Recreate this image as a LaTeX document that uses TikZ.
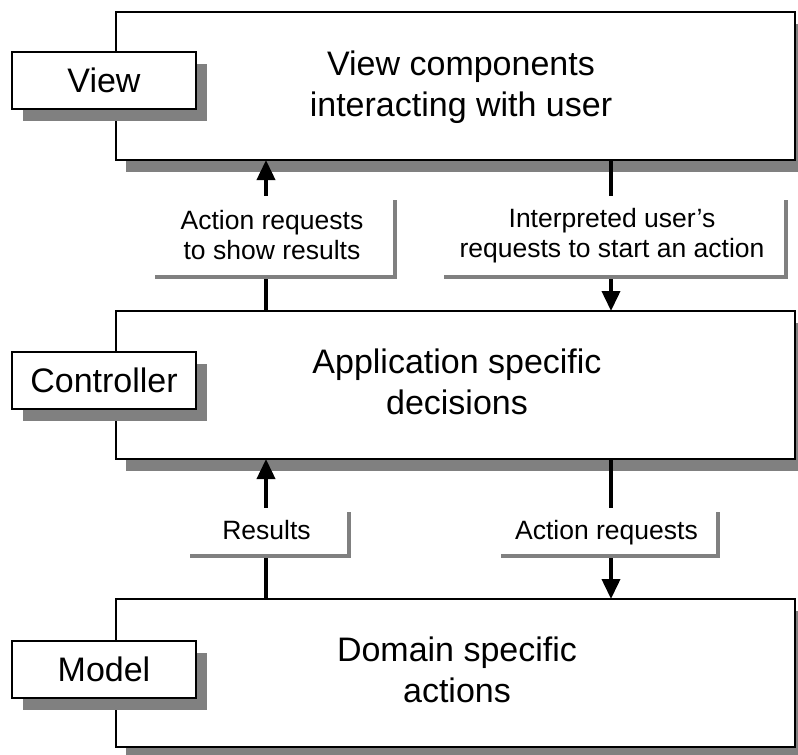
\documentclass[tikz,border=0pt]{standalone}
\usepackage{fontspec}
\setmainfont{Liberation Sans}
\usetikzlibrary{arrows.meta,shadows}
\definecolor{shade}{gray}{0.5}
\tikzset{
  layerbox/.style={draw=black, line width=1.2pt, fill=white, anchor=north west,
    minimum width=679pt, minimum height=148pt, inner sep=0pt, outer sep=0pt,
    drop shadow={shadow xshift=10pt, shadow yshift=-12pt, opacity=1, fill=shade}},
  layertext/.style={align=center, inner sep=0pt, font=\fontsize{34}{41}\selectfont},
  tagbox/.style={draw=black, line width=1.2pt, fill=white, anchor=north west,
    minimum width=184pt, minimum height=57pt, inner sep=0pt, outer sep=0pt,
    font=\fontsize{34}{41}\selectfont,
    drop shadow={shadow xshift=11pt, shadow yshift=-12pt, opacity=1, fill=shade}},
  msgbox/.style={fill=white, anchor=north west, inner sep=0pt, outer sep=0pt,
    align=center, font=\fontsize{26.5}{30}\selectfont,
    drop shadow={shadow xshift=3.5pt, shadow yshift=-3.5pt, opacity=1, fill=shade}},
  oneline/.style={text height=20pt, text depth=4pt},
  flow/.style={line width=3.8pt, -{Triangle[length=20pt,width=18pt]}},
}
\begin{document}
\begin{tikzpicture}[x=1pt, y=-1pt]
\useasboundingbox (0,0) rectangle (798,755);

% the three layers
\node[layerbox] (view) at (116,12) {};
\node[layerbox] (ctrl) at (116,311) {};
\node[layerbox] (model) at (116,599) {};
\node[layertext] (viewtxt) at (461,87) {View components\\interacting with user};
\node[layertext] (ctrltxt) at (457,382) {Application specific\\decisions};
\node[layertext] (modeltxt) at (457,670) {Domain specific\\actions};

% columns of the connectors
\coordinate (up) at (266,0);
\coordinate (down) at (611,0);

% requests and results between layers
\draw[flow] (ctrl.north -| up) -- (view.south -| up);
\draw[flow] (view.south -| down) -- (ctrl.north -| down);
\draw[flow] (model.north -| up) -- (ctrl.south -| up);
\draw[flow] (ctrl.south -| down) -- (model.north -| down);

% messages on the connectors
\node[msgbox, minimum width=242pt, minimum height=79pt] (showres) at (151,196)
  {Action requests\\to show results};
\node[msgbox, minimum width=344pt, minimum height=79pt] (userreq) at (440,196)
  {Interpreted user’s\\requests to start an action};
\node[msgbox, oneline, minimum width=161pt, minimum height=46pt] (results) at (186,508)
  {Results};
\node[msgbox, oneline, minimum width=219pt, minimum height=46pt] (actreq) at (497,508)
  {Action requests};

% layer names
\node[tagbox] (viewtag) at (12,52) {View};
\node[tagbox] (ctrltag) at (12,352) {Controller};
\node[tagbox] (modeltag) at (12,641) {Model};
\end{tikzpicture}
\end{document}
